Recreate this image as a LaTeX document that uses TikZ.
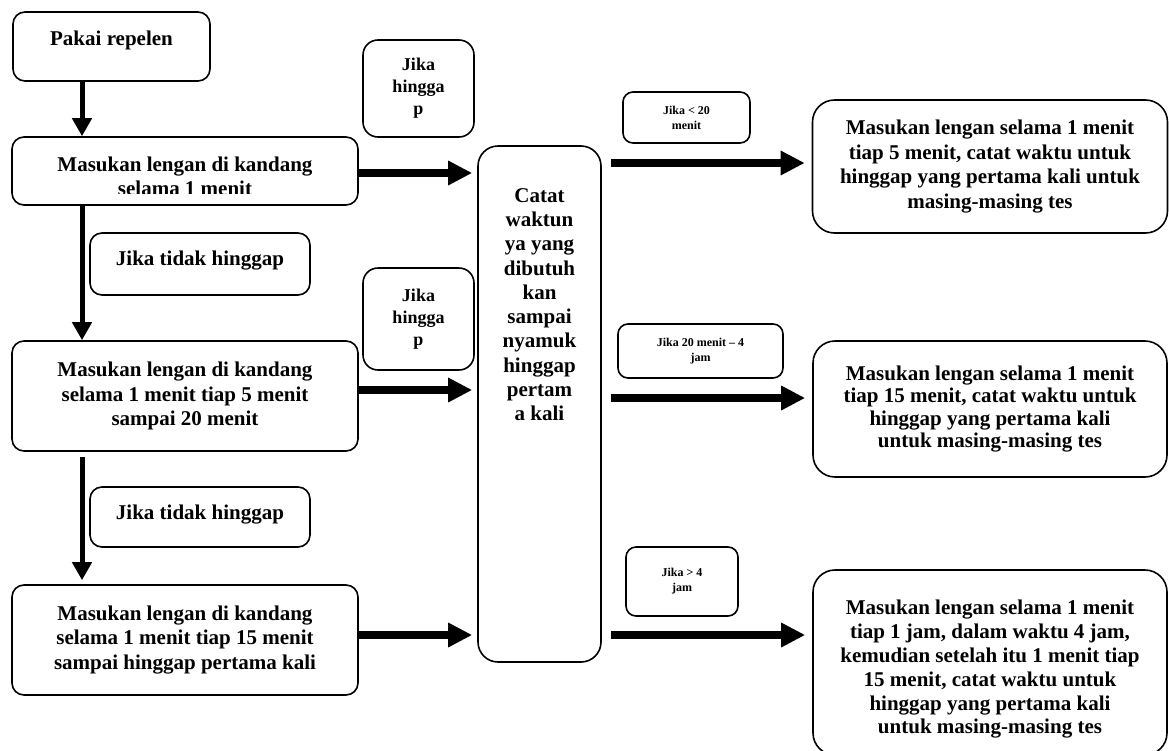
\documentclass[tikz,border=0pt]{standalone}
\usepackage{fontspec}
\setmainfont{Liberation Serif}
\usetikzlibrary{arrows.meta}
\tikzset{
  procbox/.style   = {shape=rectangle, rounded corners=12pt, draw,
                      line width=1.6pt, align=center, inner sep=0pt,
                      font=\fontsize{21}{24.5}\selectfont\bfseries},
  hinggapbox/.style = {procbox, rounded corners=15pt,
                      font=\fontsize{18}{22}\selectfont\bfseries},
  timebox/.style   = {procbox, rounded corners=10pt,
                      font=\fontsize{12}{15}\selectfont\bfseries},
  resultbox/.style = {procbox, rounded corners=22pt},
  bodytext/.style  = {align=center, inner sep=0pt,
                      font=\fontsize{21}{24.3}\selectfont\bfseries},
  downarrow/.style = {line width=5pt, -{Triangle[length=18pt,width=19pt]}},
  fatarrow/.style  = {line width=8pt, -{Triangle[length=24pt,width=23pt]}}
}

\begin{document}
\begin{tikzpicture}[x=1pt, y=-1pt]
  \useasboundingbox (0,0) rectangle (1169,750);
  \clip (0,0) rectangle (1169,750);

  % left column
  \node [procbox, minimum width=197pt, minimum height=69pt, text depth=16pt]
    (pakai) at (111.5,46.5) {Pakai repelen};
  \node [procbox, minimum width=346pt, minimum height=68pt] (masuk1) at (185,171) {};
  \begin{scope}
    \clip (masuk1.west |- 0,137) rectangle (masuk1.east |- 0,193);
    \node [bodytext, font=\fontsize{21}{24.5}\selectfont\bfseries, anchor=north]
      (masuk1text) at (185,156.5) {Masukan lengan di kandang\\ selama 1 menit};
  \end{scope}
  \node [procbox, minimum width=220pt, minimum height=62pt, text depth=12pt]
    (tidak1) at (200,264) {Jika tidak hinggap};
  \node [procbox, minimum width=346pt, minimum height=110pt] (masuk2) at (185,396)
    {Masukan lengan di kandang\\ selama 1 menit tiap 5 menit\\ sampai 20 menit};
  \node [procbox, minimum width=220pt, minimum height=60pt, text depth=9pt]
    (tidak2) at (200,517) {Jika tidak hinggap};
  \node [procbox, minimum width=346pt, minimum height=110pt] (masuk3) at (185,640)
    {Masukan lengan di kandang\\ selama 1 menit tiap 15 menit\\ sampai hinggap pertama kali};

  % hinggap labels and the record box
  \node [hinggapbox, minimum width=111pt, minimum height=97pt]
    (hinggap1) at (418.5,88.5) {Jika\\ hingga\\ p};
  \node [hinggapbox, minimum width=111pt, minimum height=102pt]
    (hinggap2) at (418.5,319) {Jika\\ hingga\\ p};
  \node [procbox, rounded corners=20pt, minimum width=123pt, minimum height=516pt]
    (catat) at (539.5,404) {};
  \node [bodytext, anchor=north] (catattext) at (539.5,188)
    {Catat\\ waktun\\ ya yang\\ dibutuh\\ kan\\ sampai\\ nyamuk\\ hinggap\\ pertam\\ a kali};

  % time conditions
  \node [timebox, minimum width=127pt, minimum height=51pt]
    (time1) at (686.5,117.5) {Jika < 20\\ menit};
  \node [timebox, minimum width=165pt, minimum height=54pt]
    (time2) at (700.5,351) {Jika 20 menit – 4\\ jam};
  \node [timebox, minimum width=112pt, minimum height=69pt]
    (time3) at (682,581.5) {Jika > 4\\ jam};

  % results
  \node [resultbox, minimum width=355pt, minimum height=133pt] (hasil1) at (990,166.5)
    {Masukan lengan selama 1 menit\\ tiap 5 menit, catat waktu untuk\\
     hinggap yang pertama kali untuk\\ masing-masing tes};
  \node [resultbox, minimum width=354pt, minimum height=136pt,
         font=\fontsize{21}{22.5}\selectfont\bfseries] (hasil2) at (990,409)
    {Masukan lengan selama 1 menit\\ tiap 15 menit, catat waktu untuk\\
     hinggap  yang pertama kali\\ untuk masing-masing tes};
  \node [resultbox, minimum width=354pt, minimum height=185pt] (hasil3) at (990,662.5) {};
  \node [bodytext, font=\fontsize{21}{23.8}\selectfont\bfseries] (hasil3text) at (990,669.5)
    {Masukan lengan selama 1 menit\\ tiap 1 jam, dalam waktu 4 jam,\\
     kemudian setelah itu 1 menit tiap\\ 15 menit, catat waktu untuk\\
     hinggap  yang pertama kali\\ untuk masing-masing tes};

  % arrows
  \coordinate (spine) at (82,0);
  \draw [downarrow] (pakai.south -| spine) -- (masuk1.north -| spine);
  \draw [downarrow] (masuk1.south -| spine) -- (masuk2.north -| spine);
  \draw [downarrow, shorten <=5pt, shorten >=4pt] (masuk2.south -| spine) -- (masuk3.north -| spine);

  \coordinate (h1) at ([yshift=-2pt]masuk1.east);
  \coordinate (h2) at ([yshift=6pt]masuk2.east);
  \coordinate (h3) at ([yshift=5pt]masuk3.east);
  \draw [fatarrow, shorten >=5pt] (h1) -- (h1 -| catat.west);
  \draw [fatarrow, shorten >=5pt] (h2) -- (h2 -| catat.west);
  \draw [fatarrow, shorten >=5pt] (h3) -- (h3 -| catat.west);

  \coordinate (g1) at ([yshift=3.5pt]hasil1.west);
  \coordinate (g2) at ([yshift=11pt]hasil2.west);
  \coordinate (g3) at ([yshift=27.5pt]hasil3.west);
  \draw [fatarrow, shorten <=9pt, shorten >=7pt] (g1 -| catat.east) -- (g1);
  \draw [fatarrow, shorten <=9pt, shorten >=7pt] (g2 -| catat.east) -- (g2);
  \draw [fatarrow, shorten <=9pt, shorten >=7pt] (g3 -| catat.east) -- (g3);
\end{tikzpicture}
\end{document}
